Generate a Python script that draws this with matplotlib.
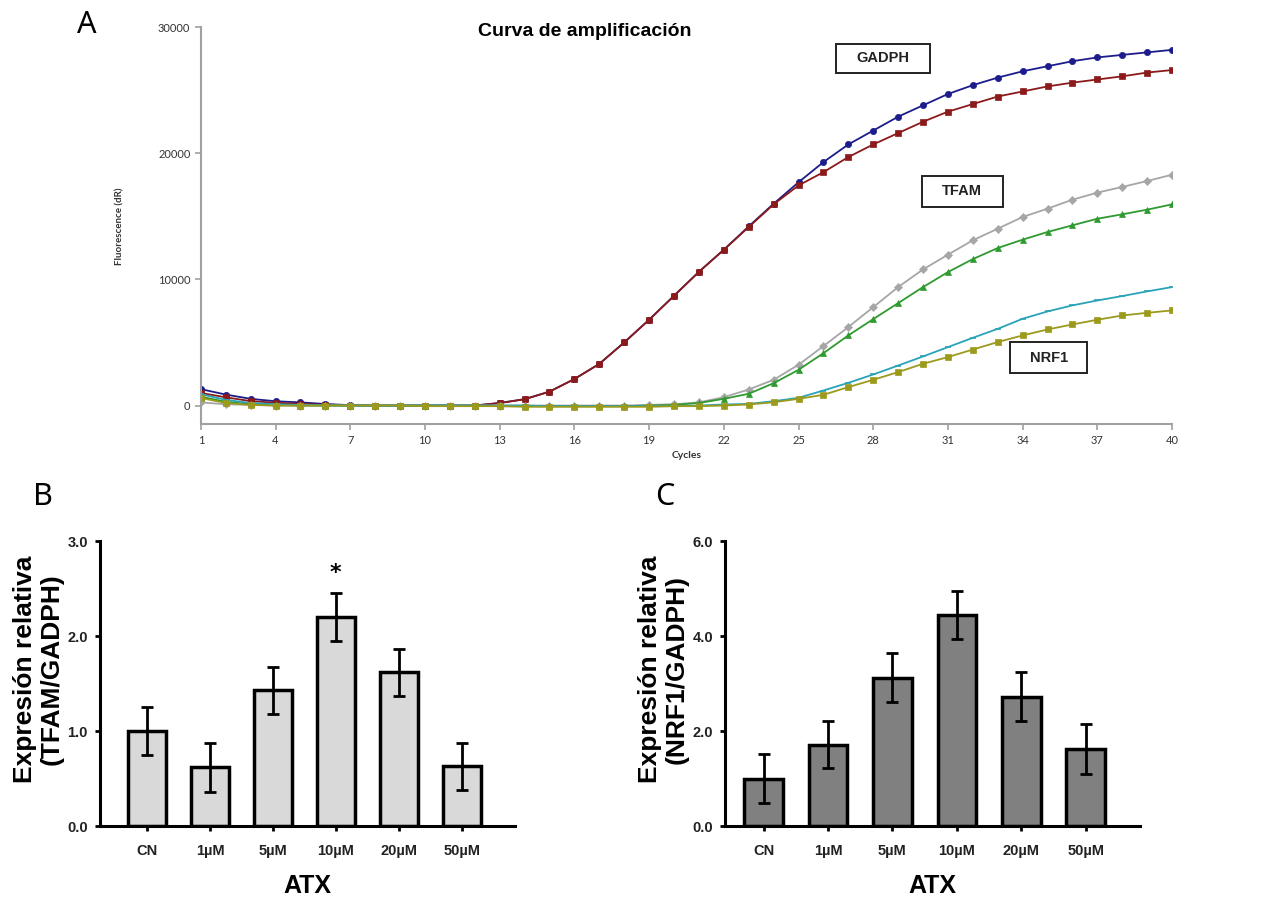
import numpy as np
import matplotlib
matplotlib.use("Agg")
import matplotlib.pyplot as plt
from matplotlib.patches import Rectangle

# --- panel A: amplification curves ---
cycles = list(range(1, 41))

gadph_1 = [1300, 870, 530, 340, 250, 120, 30, 0, 0, 0, 0, 0, 200, 500, 1100, 2100, 3300, 5000, 6800, 8700,
           10600, 12350, 14200, 16000, 17700, 19300, 20700, 21800, 22900, 23800, 24700, 25400, 26000, 26500,
           26900, 27300, 27600, 27800, 28000, 28200]
gadph_2 = [1000, 650, 350, 220, 130, 50, 0, 0, 0, 0, 0, 0, 200, 500, 1100, 2100, 3300, 5000, 6800, 8700,
           10600, 12350, 14150, 15950, 17450, 18500, 19700, 20700, 21600, 22500, 23300, 23900, 24500, 24900,
           25300, 25600, 25850, 26100, 26400, 26600]
tfam_1 = [250, 100, 50, 0, 0, 0, 0, 0, 0, 0, 0, 0, 0, 0, 0, 0, 0, 0, 50, 100,
          250, 660, 1270, 2040, 3230, 4710, 6220, 7800, 9390, 10790, 11960, 13100, 14020, 14950,
          15610, 16320, 16880, 17330, 17800, 18300]
tfam_2 = [700, 300, 100, 50, 0, 0, 0, 0, 0, 0, 0, 0, -50, -50, -50, -50, -50, -50, 0, 50,
          200, 530, 930, 1770, 2830, 4150, 5560, 6850, 8120, 9390, 10580, 11610, 12490, 13150,
          13760, 14290, 14810, 15160, 15530, 15950]
nrf1_1 = [900, 450, 200, 100, 50, 0, 0, 0, 0, 0, 0, 0, 0, 0, -50, -50, -50, -50, -50, -50,
          0, 80, 130, 340, 610, 1190, 1800, 2460, 3170, 3890, 4630, 5370, 6080, 6880,
          7460, 7940, 8330, 8680, 9050, 9390]
nrf1_2 = [600, 200, 50, 0, 0, 0, 0, 0, 0, -50, -50, -50, -50, -100, -100, -100, -100, -100, -100, -50,
          -50, 0, 80, 260, 530, 850, 1460, 2040, 2650, 3310, 3840, 4440, 5030, 5560,
          6030, 6430, 6800, 7140, 7350, 7540]

# --- panels B and C ---
groups = ["CN", "1µM", "5µM", "10µM", "20µM", "50µM"]
tfam_rel = [1.0, 0.62, 1.43, 2.2, 1.62, 0.63]
tfam_err = [0.25, 0.26, 0.25, 0.25, 0.25, 0.25]
nrf1_rel = [1.0, 1.72, 3.13, 4.45, 2.73, 1.63]
nrf1_err = [0.52, 0.5, 0.51, 0.5, 0.51, 0.52]

fig = plt.figure(figsize=(12.63, 9.05), dpi=100)

# ------------------------------------------------------------ A
ax = fig.add_axes([0.159, 0.531, 0.769, 0.439])
series = [
    (gadph_1, "#1c1c8c", "o", 4.5),
    (gadph_2, "#8c1a1a", "s", 4.5),
    (tfam_1, "#a6a6a6", "D", 4),
    (tfam_2, "#2f9a2f", "^", 5),
    (nrf1_1, "#2aa3b8", "_", 4),
    (nrf1_2, "#9c9a1c", "s", 4.5),
]
for vals, col, mk, ms in series:
    ax.plot(cycles, vals, color=col, marker=mk, markersize=ms, lw=1.3,
            markeredgecolor=col, markeredgewidth=1.2 if mk == "_" else 0.5)

ax.set_xlim(1, 40)
ax.set_ylim(-1500, 30000)
ax.set_xticks(range(1, 41, 3))
ax.set_yticks([0, 10000, 20000, 30000])
for s in ["top", "right"]:
    ax.spines[s].set_visible(False)
for s in ["left", "bottom"]:
    ax.spines[s].set_color("#a0a0a0")
    ax.spines[s].set_linewidth(1.5)
ax.tick_params(axis="both", colors="#a0a0a0", labelcolor="#333333", labelsize=8, length=4, width=1.2)
for lab in ax.get_xticklabels() + ax.get_yticklabels():
    lab.set_family("Lato")
ax.set_xlabel("Cycles", fontsize=7.5, family="Lato", fontweight="bold", color="#333333", labelpad=4)
ax.set_ylabel("Fluorescence (dR)", fontsize=7, family="Lato", fontweight="bold", color="#333333", labelpad=24)

fig.text(0.463, 0.965, "Curva de amplificación", ha="center", va="center",
         fontsize=14, fontweight="bold", family="Liberation Sans")
fig.text(0.069, 0.972, "A", ha="center", va="center", fontsize=22, family="Noto Sans", fontweight="light")

# gene label boxes (x in cycles, y in dR)
for name, x0, x1, y0, y1 in [("GADPH", 26.5, 30.3, 26400, 28700),
                             ("TFAM", 29.95, 33.2, 15750, 18200),
                             ("NRF1", 33.5, 36.6, 2550, 5000)]:
    ax.add_patch(Rectangle((x0, y0), x1 - x0, y1 - y0, fc="white", ec="#222222", lw=1.4, zorder=5))
    ax.text((x0 + x1) / 2, (y0 + y1) / 2, name, ha="center", va="center", fontsize=10.5,
            fontweight="bold", family="Liberation Sans", color="#222222", zorder=6)


# ------------------------------------------------------------ B, C
def bar_panel(rect, vals, errs, color, ymax, ylabel, letter_xy, letter, xlim, star=None):
    a = fig.add_axes(rect)
    x = np.arange(len(groups))
    a.bar(x, vals, width=0.6, color=color, edgecolor="black", linewidth=2.5, zorder=2)
    a.errorbar(x, vals, yerr=errs, fmt="none", ecolor="black", elinewidth=2, capsize=4,
               capthick=2, zorder=3)
    a.set_xlim(*xlim)
    a.set_ylim(0, ymax)
    a.set_yticks(np.linspace(0, ymax, 4))
    a.set_yticklabels([f"{v:.1f}" for v in np.linspace(0, ymax, 4)])
    a.set_xticks(x)
    a.set_xticklabels(groups)
    for s in ["top", "right"]:
        a.spines[s].set_visible(False)
    for s in ["left", "bottom"]:
        a.spines[s].set_linewidth(2.2)
    a.tick_params(axis="both", length=3.5, width=2, labelsize=10.5, pad=5, labelcolor="#222222")
    a.tick_params(axis="x", pad=9)
    for lab in a.get_xticklabels() + a.get_yticklabels():
        lab.set_fontweight("bold")
        lab.set_family("Liberation Sans")
    a.set_xlabel("ATX", fontsize=18, fontweight="bold", family="Liberation Sans", labelpad=12)
    a.set_ylabel(ylabel, fontsize=19, fontweight="bold", family="Liberation Sans",
                 linespacing=1.1)
    a.yaxis.set_label_coords(-0.088, 0.55)
    if star is not None:
        a.text(star[0], star[1], "*", ha="center", va="center", fontsize=16, fontweight="bold")
    fig.text(letter_xy[0], letter_xy[1], letter, ha="center", va="center", fontsize=22,
             family="Noto Sans", fontweight="light")
    return a


bar_panel([0.079, 0.087, 0.329, 0.315], tfam_rel, tfam_err, "#d9d9d9", 3.0,
          "Expresión relativa\n(TFAM/GADPH)", (0.034, 0.451), "B", (-0.75, 5.85), star=(3, 2.66))
bar_panel([0.574, 0.087, 0.329, 0.315], nrf1_rel, nrf1_err, "#808080", 6.0,
          "Expresión relativa\n(NRF1/GADPH)", (0.526, 0.451), "C", (-0.6, 5.85))

fig.savefig("out.png", dpi=100)
